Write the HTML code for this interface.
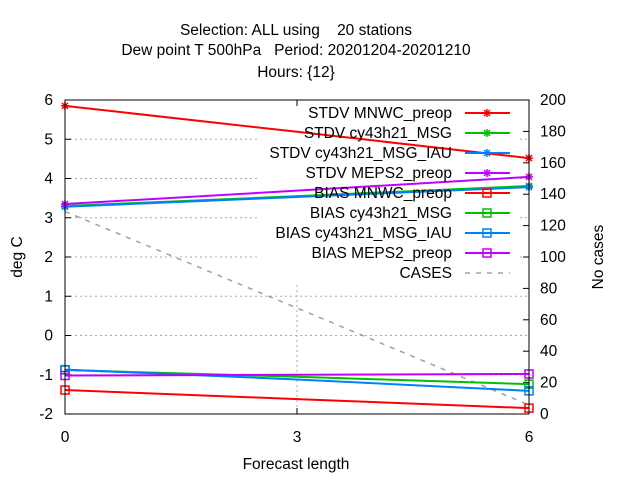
<!DOCTYPE html>
<html><head><meta charset="utf-8"><style>
body{margin:0;background:#fff}
svg{display:block;font-family:"Liberation Sans",sans-serif;font-size:15.5px}
</style></head><body>
<svg id="chart" width="640" height="480" viewBox="0 0 640 480">
<rect width="640" height="480" fill="#fff"/>
<g text-anchor="middle">
<text x="296" y="35" xml:space="preserve">Selection: ALL using    20 stations</text>
<text x="296" y="55" xml:space="preserve">Dew point T 500hPa   Period: 20201204-20201210</text>
<text x="296" y="77">Hours: {12}</text>
</g>
<g id="grid"></g>
<rect x="257" y="101" width="262" height="182" fill="#fff"/>
<g id="axes"></g>
<g id="series"></g>
<g id="legend"></g>
<rect x="65" y="100" width="464" height="314" fill="none" stroke="#000" stroke-width="1"/>
<text x="22" y="257" text-anchor="middle" transform="rotate(-90 22 257)">deg C</text>
<text x="603" y="257" text-anchor="middle" transform="rotate(-90 603 257)">No cases</text>
<text x="296" y="469" text-anchor="middle">Forecast length</text>
</svg>
<script>
const xCats=[0,3,6];
const yTicks=[-2,-1,0,1,2,3,4,5,6];
const y2Ticks=[0,20,40,60,80,100,120,140,160,180,200];
const stdvMNWC=[5.85,5.19,4.52];
const stdvMSG=[3.30,3.55,3.81];
const stdvIAU=[3.28,3.53,3.78];
const stdvMEPS=[3.35,3.69,4.04];
const biasMNWC=[-1.39,-1.62,-1.85];
const biasMSG=[-0.88,-1.05,-1.24];
const biasIAU=[-0.87,-1.12,-1.41];
const biasMEPS=[-1.02,-1.0,-0.98];
const cases=[129,67.5,5.7];
const L=65,R=529,T=100,B=414;
const xs=v=>L+(v-0)/(6-0)*(R-L);
const ys=v=>B-(v+2)/8*(B-T);
const y2s=v=>B-v/200*(B-T);
const NS='http://www.w3.org/2000/svg';
function mk(tag,attrs,parent){const e=document.createElementNS(NS,tag);for(const k in attrs)e.setAttribute(k,attrs[k]);parent.appendChild(e);return e;}
const grid=document.getElementById('grid'),axes=document.getElementById('axes'),ser=document.getElementById('series'),leg=document.getElementById('legend');
yTicks.forEach(v=>{const y=ys(v);
 if(v>-2&&v<6){const g=mk('line',{x1:L,x2:R,y1:y,y2:y,stroke:'#aaa','stroke-dasharray':'2,3'},grid);}
 const t=mk('line',{x1:L,x2:L+6,y1:y,y2:y,stroke:'#000'},axes);
 const l=mk('text',{x:L-12,y:y+5,'text-anchor':'end'},axes);l.textContent=v;});
y2Ticks.forEach(v=>{const y=y2s(v);
 const t=mk('line',{x1:R-6,x2:R,y1:y,y2:y,stroke:'#000'},axes);
 const l=mk('text',{x:R+11,y:y+5,'text-anchor':'start'},axes);l.textContent=v;});
xCats.forEach(v=>{const x=xs(v);
 if(v>0&&v<6){const g=mk('line',{x1:x,x2:x,y1:T,y2:B,stroke:'#aaa','stroke-dasharray':'2,3'},grid);}
 const t=mk('line',{x1:x,x2:x,y1:B,y2:B-6,stroke:'#000'},axes);
 const t2=mk('line',{x1:x,x2:x,y1:T,y2:T+6,stroke:'#000'},axes);
 const l=mk('text',{x:x,y:B+28,'text-anchor':'middle'},axes);l.textContent=v;});
function star(x,y,c,p){const d=`M${x-4},${y}H${x+4}M${x},${y-4}V${y+4}M${x-3},${y-3}L${x+3},${y+3}M${x-3},${y+3}L${x+3},${y-3}`;const e=mk('path',{d:d,stroke:c,'stroke-width':1.5,fill:'none'},p);}
function box(x,y,c,p){const e=mk('rect',{x:x-4,y:y-4,width:8,height:8,stroke:c,'stroke-width':1.5,fill:'none'},p);}
const series=[
 ['STDV MNWC_preop',stdvMNWC,'#ff0000',star],['STDV cy43h21_MSG',stdvMSG,'#00c000',star],['STDV cy43h21_MSG_IAU',stdvIAU,'#0080ff',star],['STDV MEPS2_preop',stdvMEPS,'#c000ff',star],
 ['BIAS MNWC_preop',biasMNWC,'#ff0000',box],['BIAS cy43h21_MSG',biasMSG,'#00c000',box],['BIAS cy43h21_MSG_IAU',biasIAU,'#0080ff',box],['BIAS MEPS2_preop',biasMEPS,'#c000ff',box]];
{const pts=cases.map((v,i)=>xs(xCats[i])+','+y2s(v)).join(' ');const e=mk('polyline',{points:pts,fill:'none',stroke:'#a0a0a0','stroke-width':1.5,'stroke-dasharray':'5,6'},ser);}
series.forEach((s,k)=>{const g=mk('g',{},ser);
 const pts=s[1].map((v,i)=>xs(xCats[i])+','+ys(v)).join(' ');
 const e=mk('polyline',{points:pts,fill:'none',stroke:s[2],'stroke-width':2},g);
 [0,2].forEach(i=>s[3](xs(xCats[i]),ys(s[1][i]),s[2],g));});
series.concat([['CASES',null,'#a0a0a0',null]]).forEach((s,k)=>{const y=113+k*20;const g=mk('g',{},leg);
 const t=mk('text',{x:452,y:y+5,'text-anchor':'end'},g);t.textContent=s[0];
 const ln=mk('line',{x1:465,x2:510,y1:y,y2:y,stroke:s[2],'stroke-width':s[3]?2:1.5},g);if(!s[3])ln.setAttribute('stroke-dasharray','5,6');
 if(s[3])s[3](487,y,s[2],g);});
</script>
</body></html>
